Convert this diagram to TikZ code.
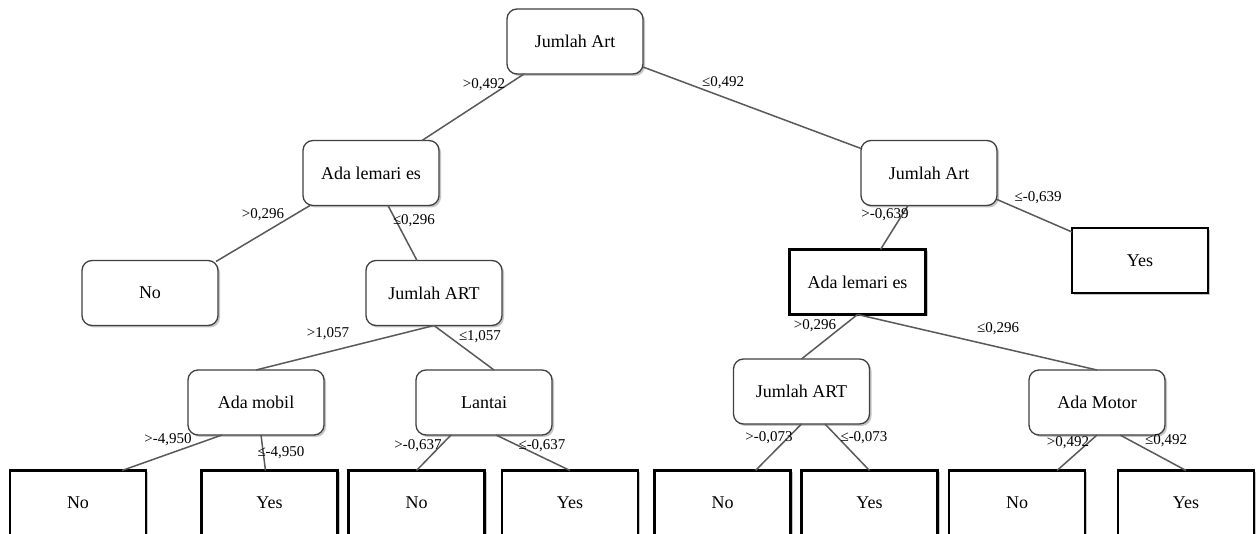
\documentclass[tikz,border=0pt]{standalone}
\usepackage{fontspec}
\setmainfont{Liberation Serif}
\usetikzlibrary{shadows}
\begin{document}
\begin{tikzpicture}[x=1pt,y=-1pt,
  rbox/.style={draw=black!75, line width=1.3pt, rounded corners=10pt, fill=white,
    minimum width=136pt, minimum height=65pt, inner sep=0pt, outer sep=0pt,
    font=\fontsize{18}{21}\selectfont,
    drop shadow={shadow xshift=2pt, shadow yshift=-2pt, fill=black!45, opacity=0.5}},
  sbox/.style={draw=black, line width=2.5pt, fill=white,
    minimum width=136pt, minimum height=65pt, inner sep=0pt, outer sep=0pt,
    font=\fontsize{18}{21}\selectfont,
    drop shadow={shadow xshift=2pt, shadow yshift=-2pt, fill=black!45, opacity=0.5}},
  conn/.style={draw=black!65, line width=1.5pt},
  lbl/.style={font=\fontsize{15}{17}\selectfont, inner sep=0pt}]
\useasboundingbox (0,0) rectangle (1259,534);
\clip (0,0) rectangle (1259,534);
\fill[white] (0,0) rectangle (1259,534);

% nodes
\node[rbox] (r) at (575,41.5) {Jumlah Art};
\node[rbox] (a) at (371,173) {Ada lemari es};
\node[rbox] (b) at (929,173) {Jumlah Art};
\node[rbox] (n1) at (150,293) {No};
\node[rbox] (c) at (434,293) {Jumlah ART};
\node[sbox] (y1) at (1140,260.5) {Yes};
\node[sbox] (d) at (857.5,282) {Ada lemari es};
\node[rbox] (e) at (256,402.5) {Ada mobil};
\node[rbox] (f) at (484,402.5) {Lantai};
\node[rbox] (g) at (801.5,391.5) {Jumlah ART};
\node[rbox] (h) at (1097,402.5) {Ada Motor};
\node[sbox] (l1) at (78,503) {No};
\node[sbox] (l2) at (269.5,503) {Yes};
\node[sbox] (l3) at (416.5,503) {No};
\node[sbox] (l4) at (570,503) {Yes};
\node[sbox] (l5) at (722.5,503) {No};
\node[sbox] (l6) at (869.5,503) {Yes};
\node[sbox] (l7) at (1017,503) {No};
\node[sbox] (l8) at (1186,503) {Yes};

% connectors
\draw[conn] ([xshift=17pt]r.south west) -- ([xshift=-17pt]a.north east);
\draw[conn] ([yshift=7pt]r.south east) -- ([yshift=-8pt]b.north west);
\draw[conn] ([xshift=7pt]a.south west) -- ([xshift=-2pt,yshift=-1pt]n1.north east);
\draw[conn] ([xshift=85pt]a.south west) -- ([xshift=51pt]c.north west);
\draw[conn] (c.south) -- (e.north);
\draw[conn] (c.south) -- ([xshift=78pt]f.north west);
\draw[conn] ([xshift=34pt]e.south west) -- ([xshift=-24pt]l1.north east);
\draw[conn] ([xshift=5pt]e.south) -- ([xshift=-4pt]l2.north);
\draw[conn] ([xshift=35pt]f.south west) -- (l3.north);
\draw[conn] ([xshift=80pt]f.south west) -- (l4.north);
\draw[conn] ([yshift=6pt]b.south east) -- ([yshift=-4pt]y1.north west);
\draw[conn] ([xshift=47pt]b.south west) -- ([xshift=91pt]d.north west);
\draw[conn] (d.south) -- (g.north);
\draw[conn] (d.south) -- (h.north);
\draw[conn] (g.south) -- ([xshift=33pt]l5.north);
\draw[conn] ([xshift=23.5pt]g.south) -- (l6.north);
\draw[conn] (h.south) -- ([xshift=40pt]l7.north);
\draw[conn] ([xshift=23pt]h.south) -- (l8.north);

% labels
\node[lbl] (t1) at (484,85) {>0,492};
\node[lbl] (t2) at (723,83) {≤0,492};
\node[lbl] (t3) at (263,215) {>0,296};
\node[lbl] (t4) at (414,221) {≤0,296};
\node[lbl] (t5) at (328,334) {>1,057};
\node[lbl] (t6) at (480,337) {≤1,057};
\node[lbl] (t7) at (168,440) {>-4,950};
\node[lbl] (t8) at (281,453) {≤-4,950};
\node[lbl] (t9) at (418,446) {>-0,637};
\node[lbl] (t10) at (542,446) {≤-0,637};
\node[lbl] (t11) at (1038,198) {≤-0,639};
\node[lbl] (t12) at (885,215) {>-0,639};
\node[lbl] (t13) at (815,326) {>0,296};
\node[lbl] (t14) at (998,329) {≤0,296};
\node[lbl] (t15) at (769,438) {>-0,073};
\node[lbl] (t16) at (864,438) {≤-0,073};
\node[lbl] (t17) at (1068,443) {>0,492};
\node[lbl] (t18) at (1166,441) {≤0,492};
\end{tikzpicture}
\end{document}
